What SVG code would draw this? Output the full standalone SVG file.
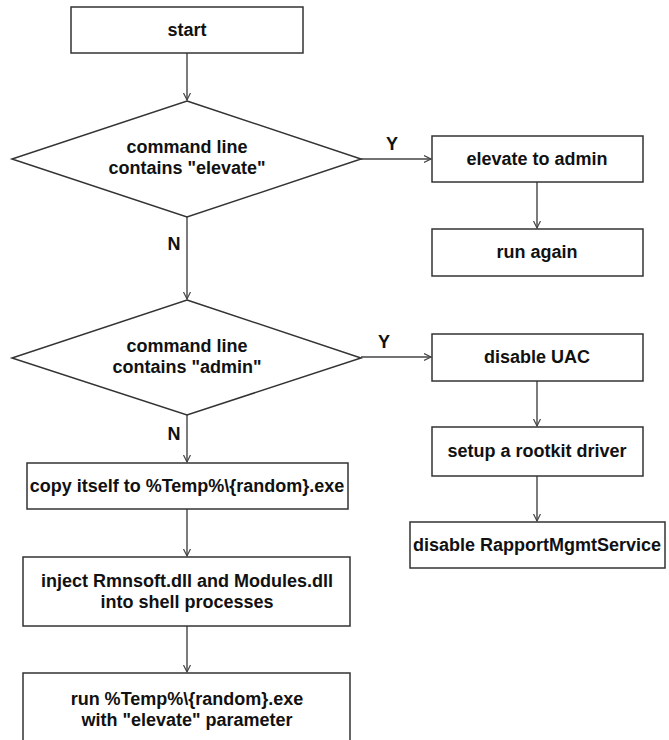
<svg xmlns="http://www.w3.org/2000/svg" width="669" height="740" viewBox="0 0 669 740">
<style>
.box{fill:#fff;stroke:#333;stroke-width:1.5}
.t{font-family:"Liberation Sans",Arial,sans-serif;font-weight:bold;font-size:18px;fill:#111;text-anchor:middle}
.c{fill:none;stroke:#444;stroke-width:1.4}
</style>
<defs>
<marker id="ah" markerUnits="userSpaceOnUse" markerWidth="10" markerHeight="10" refX="7" refY="4" orient="auto">
<path d="M0,0.5 L7,4 L0,7.5" fill="none" stroke="#444" stroke-width="1.2"/>
</marker>
</defs>
<rect width="669" height="740" fill="#fff"/>
<g id="connectors">
<line class="c" x1="187" y1="53" x2="187" y2="100" marker-end="url(#ah)"/>
<line class="c" x1="361" y1="159" x2="431" y2="159" marker-end="url(#ah)"/>
<line class="c" x1="537" y1="182" x2="537" y2="228" marker-end="url(#ah)"/>
<line class="c" x1="187" y1="217" x2="187" y2="299" marker-end="url(#ah)"/>
<line class="c" x1="361" y1="357" x2="431" y2="357" marker-end="url(#ah)"/>
<line class="c" x1="537" y1="381" x2="537" y2="426" marker-end="url(#ah)"/>
<line class="c" x1="537" y1="476" x2="537" y2="521" marker-end="url(#ah)"/>
<line class="c" x1="187" y1="415" x2="187" y2="462" marker-end="url(#ah)"/>
<line class="c" x1="187" y1="509" x2="187" y2="556" marker-end="url(#ah)"/>
<line class="c" x1="187" y1="626" x2="187" y2="672" marker-end="url(#ah)"/>
<text class="t" x="392" y="150">Y</text>
<text class="t" x="174" y="250">N</text>
<text class="t" x="384" y="348">Y</text>
<text class="t" x="174" y="440">N</text>
</g>
<g id="start">
<rect class="box" x="71" y="7" width="232" height="46"/>
<text class="t" x="187" y="36">start</text>
</g>
<g id="decision1">
<polygon class="box" points="187,101 361,159 187,217 12,159"/>
<text class="t" x="187" y="153">command line</text>
<text class="t" x="187" y="174">contains "elevate"</text>
</g>
<g id="elevate">
<rect class="box" x="432" y="136" width="211" height="46"/>
<text class="t" x="537" y="165">elevate to admin</text>
</g>
<g id="runagain">
<rect class="box" x="432" y="229" width="211" height="47"/>
<text class="t" x="537" y="258">run again</text>
</g>
<g id="decision2">
<polygon class="box" points="187,300 361,358 187,415 12,358"/>
<text class="t" x="187" y="352">command line</text>
<text class="t" x="187" y="373">contains "admin"</text>
</g>
<g id="disableuac">
<rect class="box" x="432" y="334" width="211" height="47"/>
<text class="t" x="537" y="363">disable UAC</text>
</g>
<g id="rootkit">
<rect class="box" x="432" y="427" width="211" height="49"/>
<text class="t" x="537" y="457">setup a rootkit driver</text>
</g>
<g id="rapport">
<rect class="box" x="410" y="522" width="255" height="46"/>
<text class="t" x="537" y="551">disable RapportMgmtService</text>
</g>
<g id="copy">
<rect class="box" x="27" y="463" width="321" height="46"/>
<text class="t" x="187" y="492">copy itself to %Temp%\{random}.exe</text>
</g>
<g id="inject">
<rect class="box" x="23" y="557" width="327" height="69"/>
<text class="t" x="187" y="587">inject Rmnsoft.dll and Modules.dll</text>
<text class="t" x="187" y="608">into shell processes</text>
</g>
<g id="run">
<rect class="box" x="23" y="673" width="327" height="80"/>
<text class="t" x="187" y="705">run %Temp%\{random}.exe</text>
<text class="t" x="187" y="726">with "elevate" parameter</text>
</g>
</svg>
